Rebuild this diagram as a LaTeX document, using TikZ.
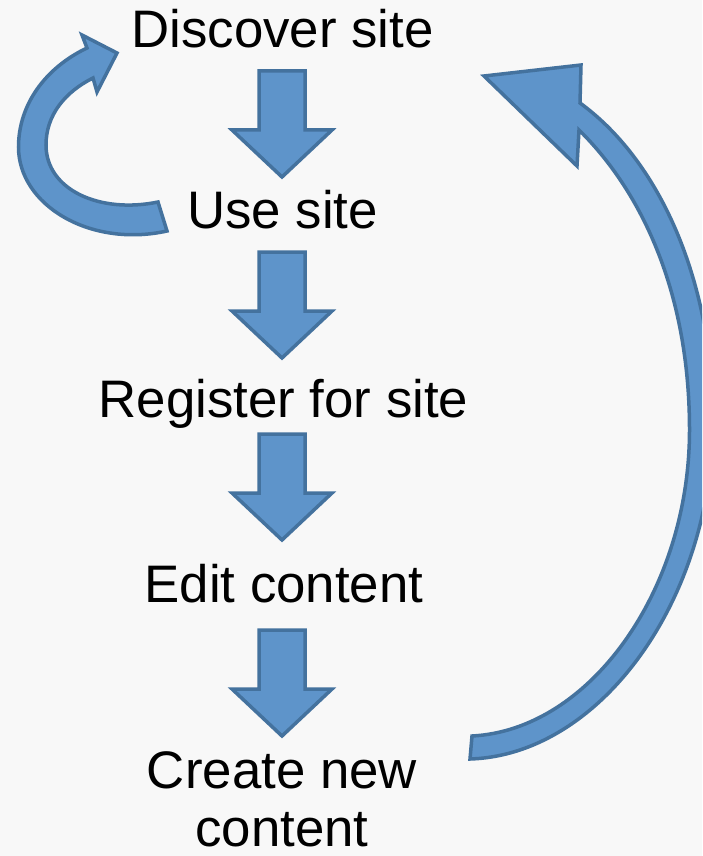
\documentclass[tikz,border=0pt]{standalone}
\usepackage{fontspec}
\setmainfont{Liberation Sans}
\definecolor{bgc}{RGB}{248,248,248}
\definecolor{afill}{RGB}{94,148,202}
\definecolor{aline}{RGB}{68,114,158}
\begin{document}
\begin{tikzpicture}[x=1pt,y=-1pt,
  lbl/.style={font=\fontsize{52.8}{58}\selectfont, inner sep=0pt, anchor=base, align=center},
  blk/.style={fill=afill, draw=aline, line width=3.5pt},
  downblk/.pic={\path[blk] (-23,0) -- (23,0) -- (23,59) -- (50,59) -- (0,106) -- (-50,59) -- (-23,59) -- cycle;}]
\fill[bgc] (0,0) rectangle (702,856);
\useasboundingbox (0,0) rectangle (702,856);
\clip (0,0) rectangle (702,856);

% text nodes
\node[lbl] (t1) at (282.5,48) {Discover site};
\node[lbl] (t2) at (282.5,228) {Use site};
\node[lbl] (t3) at (283.5,417) {Register for site};
\node[lbl] (t4) at (284,602) {Edit content};
\node[lbl] (t5) at (282,846) {Create new\\content};

% down block arrows
\pic at (282,71) {downblk};
\pic at (282,252) {downblk};
\pic at (282,434) {downblk};
\pic at (282,630) {downblk};

% left loop arrow (Use site -> Discover site)
\path[blk] (158,202) .. controls (100,214) and (46,190) .. (46,145)
  .. controls (46,115) and (65,92) .. (93,78) -- (97,92) -- (117,53)
  -- (82,35) -- (87,48) .. controls (45,68) and (18.5,105) .. (18.5,147)
  .. controls (18.5,205) and (90,248) .. (167,231) -- cycle;

% right return arrow (Create new content -> Discover site)
\path[blk] (472,736) .. controls (590,730) and (689.5,590) .. (689.5,430)
  .. controls (689.5,290) and (640,190) .. (579,130) -- (577,166) -- (484,76)
  -- (581,65) -- (580,103) .. controls (665,165) and (713,290) .. (713,420)
  .. controls (713,600) and (600,755) .. (470,759) -- cycle;
\end{tikzpicture}
\end{document}
